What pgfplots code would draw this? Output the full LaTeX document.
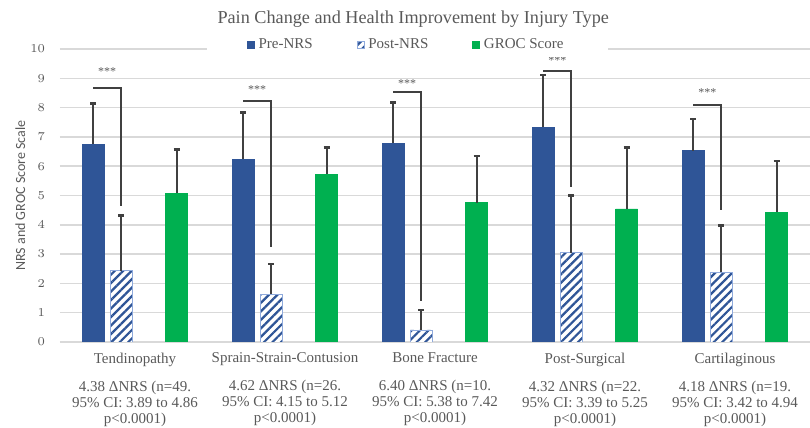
\documentclass[border=0pt]{standalone}
\usepackage{fontspec}
\setmainfont{Liberation Serif}
\newfontfamily\calibri{Carlito}
\usepackage{pgfplots}
\pgfplotsset{compat=1.18}
\usepackage{pgfplotstable}
\usetikzlibrary{patterns.meta}

\definecolor{preblue}{HTML}{2F5597}
\definecolor{grocgreen}{HTML}{00B050}
\definecolor{txtgray}{HTML}{595959}
\definecolor{gridgray}{HTML}{D9D9D9}
\definecolor{hatchedge}{HTML}{8FAADC}
\definecolor{brk}{HTML}{404040}

% means and upper error (SD) per injury type
\pgfplotstableread{
x pre  preerr post posterr groc grocerr
0 6.75 1.40   2.43 1.88    5.07 1.51
1 6.23 1.60   1.63 1.03    5.73 0.91
2 6.78 1.39   0.41 0.68    4.75 1.60
3 7.33 1.78   3.05 1.95    4.54 2.10
4 6.53 1.08   2.38 1.59    4.43 1.75
}\scores

\begin{document}
\begin{tikzpicture}
\begin{axis}[
  name=ax,
  scale only axis, width=375pt, height=146.5pt,
  xmin=-0.5, xmax=4.5, ymin=0, ymax=10,
  axis line style={draw=none},
  major tick length=0pt,
  ytick={0,...,10},
  xtick={0,...,4},
  xticklabels={
    {Tendinopathy\\[6pt]4.38 ΔNRS (n=49.\\95\% CI: 3.89 to 4.86\\p<0.0001)},
    {Sprain-Strain-Contusion\\[6pt]4.62 ΔNRS (n=26.\\95\% CI: 4.15 to 5.12\\p<0.0001)},
    {Bone Fracture\\[6pt]6.40 ΔNRS (n=10.\\95\% CI: 5.38 to 7.42\\p<0.0001)},
    {Post-Surgical\\[6pt]4.32 ΔNRS (n=22.\\95\% CI: 3.39 to 5.25\\p<0.0001)},
    {Cartilaginous\\[6pt]4.18 ΔNRS (n=19.\\95\% CI: 3.42 to 4.94\\p<0.0001)}},
  xticklabel style={align=center, text=txtgray, font=\fontsize{7.5}{8}\selectfont, anchor=north, yshift=-2pt},
  yticklabel style={text=txtgray, font=\calibri\fontsize{6.5}{7}\selectfont, xshift=-4pt},
  ymajorgrids, grid style={gridgray, line width=0.75pt},
  ylabel={NRS and GROC Score Scale},
  ylabel style={at={(axis description cs:-0.053,0.5)}, anchor=center, text=txtgray, font=\calibri\fontsize{7}{8}\selectfont},
  title={Pain Change and Health Improvement by Injury Type},
  title style={at={(axis description cs:0.471,1.106)}, anchor=center, yshift=-6.5pt, text=txtgray, font=\fontsize{9.1}{10}\selectfont},
  legend columns=3,
  legend style={at={(axis description cs:0.463,1.014)}, anchor=center, draw=none, fill=white,
    inner xsep=20pt, inner ysep=1pt, font=\fontsize{7.5}{8}\selectfont, text=txtgray,
    /tikz/every even column/.append style={column sep=20pt}},
  legend image code/.code={\draw[#1] (0pt,-1.8pt) rectangle (3.4pt,1.8pt);},
  error bars/error bar style={draw=brk, line width=1pt},
  error bars/error mark=|,
  error bars/error mark options={draw=brk, mark size=1.5pt, line width=1.4pt},
]
\addplot[ybar, bar width=0.147, bar shift=-0.277, fill=preblue, draw=preblue]
  table[x=x, y=pre] {\scores};
\addlegendentry{Pre-NRS}
\addplot[ybar, bar width=0.147, bar shift=-0.092, fill=white, draw=hatchedge,
  postaction={pattern={Lines[angle=45, distance=3pt, line width=1.1pt]}, pattern color=preblue}]
  table[x=x, y=post] {\scores};
\addlegendentry{Post-NRS}
\addplot[ybar, bar width=0.147, bar shift=0.277, fill=grocgreen, draw=grocgreen]
  table[x=x, y=groc] {\scores};
\addlegendentry{GROC Score}

% upper error bars, at the bar centres
\addplot[draw=none, mark=none, forget plot, error bars/.cd, y dir=plus, y explicit]
  table[x expr=\thisrow{x}-0.277, y=pre, y error=preerr] {\scores};
\addplot[draw=none, mark=none, forget plot, error bars/.cd, y dir=plus, y explicit]
  table[x expr=\thisrow{x}-0.092, y=post, y error=posterr] {\scores};
\addplot[draw=none, mark=none, forget plot, error bars/.cd, y dir=plus, y explicit]
  table[x expr=\thisrow{x}+0.277, y=groc, y error=grocerr] {\scores};

% significance brackets from Pre-NRS to Post-NRS
\addplot[sharp plot, forget plot, brk, line width=1pt, mark=none, unbounded coords=jump]
  coordinates {
    (-0.277,8.66) (-0.092,8.66) (-0.092,4.65) (0,nan)
    (0.723,8.24) (0.908,8.24) (0.908,3.25) (1,nan)
    (1.723,8.54) (1.908,8.54) (1.908,1.41) (2,nan)
    (2.723,9.25) (2.908,9.25) (2.908,5.30) (3,nan)
    (3.723,8.09) (3.908,8.09) (3.908,4.50)
  };
\addplot[draw=none, mark=none, forget plot, nodes near coords={***},
  every node near coord/.style={anchor=center, text=txtgray, font=\fontsize{6}{6}\selectfont}]
  coordinates {(-0.185,9.22) (0.815,8.63) (1.815,8.81) (2.815,9.62) (3.815,8.51)};
\end{axis}
\pgfresetboundingbox
\path[use as bounding box] ([xshift=-30pt,yshift=-43pt]ax.south west) rectangle ([yshift=24.5pt]ax.north east);
\end{tikzpicture}
\end{document}
